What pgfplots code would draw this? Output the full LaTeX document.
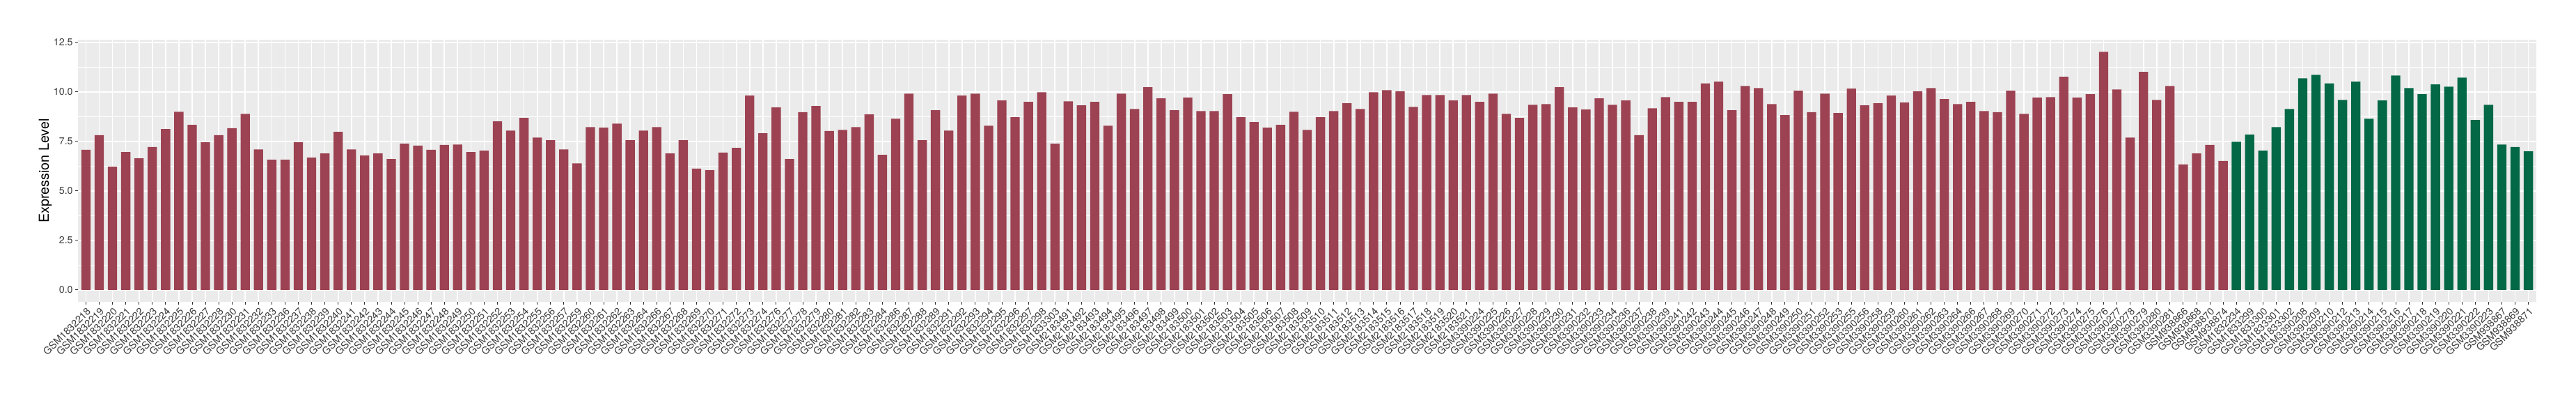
\documentclass[border=0pt]{standalone}
\usepackage{fontspec}
\setmainfont{TeX Gyre Heros}
\usepackage{pgfplots}
\usepackage{pgfplotstable}
\pgfplotsset{compat=1.18}

\definecolor{barred}{RGB}{156,66,82}
\definecolor{bargreen}{RGB}{3,104,70}
\definecolor{panelgrey}{RGB}{235,235,235}
\definecolor{grey20}{RGB}{51,51,51}
\definecolor{grey30}{RGB}{60,60,60}

% expression per sample; rows 0-161 first group, 162-184 second group
\pgfplotstableread{
x y name
0 7.07 GSM1832218
1 7.81 GSM1832219
2 6.22 GSM1832220
3 6.96 GSM1832221
4 6.64 GSM1832222
5 7.21 GSM1832223
6 8.12 GSM1832224
7 8.99 GSM1832225
8 8.33 GSM1832226
9 7.45 GSM1832227
10 7.81 GSM1832228
11 8.16 GSM1832230
12 8.89 GSM1832231
13 7.09 GSM1832232
14 6.57 GSM1832233
15 6.57 GSM1832236
16 7.45 GSM1832237
17 6.68 GSM1832238
18 6.89 GSM1832239
19 7.98 GSM1832240
20 7.09 GSM1832241
21 6.78 GSM1832242
22 6.89 GSM1832243
23 6.61 GSM1832244
24 7.38 GSM1832245
25 7.28 GSM1832246
26 7.07 GSM1832247
27 7.32 GSM1832248
28 7.34 GSM1832249
29 6.96 GSM1832250
30 7.03 GSM1832251
31 8.51 GSM1832252
32 8.04 GSM1832253
33 8.68 GSM1832254
34 7.69 GSM1832255
35 7.56 GSM1832256
36 7.09 GSM1832257
37 6.39 GSM1832259
38 8.22 GSM1832260
39 8.19 GSM1832261
40 8.39 GSM1832262
41 7.56 GSM1832263
42 8.04 GSM1832264
43 8.22 GSM1832266
44 6.89 GSM1832267
45 7.56 GSM1832268
46 6.12 GSM1832269
47 6.04 GSM1832270
48 6.93 GSM1832271
49 7.17 GSM1832272
50 9.81 GSM1832273
51 7.91 GSM1832274
52 9.21 GSM1832276
53 6.61 GSM1832277
54 8.97 GSM1832278
55 9.28 GSM1832279
56 8.02 GSM1832280
57 8.08 GSM1832281
58 8.22 GSM1832282
59 8.86 GSM1832283
60 6.82 GSM1832284
61 8.64 GSM1832286
62 9.91 GSM1832287
63 7.56 GSM1832288
64 9.07 GSM1832289
65 8.04 GSM1832291
66 9.81 GSM1832292
67 9.91 GSM1832293
68 8.29 GSM1832294
69 9.56 GSM1832295
70 8.72 GSM1832296
71 9.49 GSM1832297
72 9.98 GSM1832298
73 7.38 GSM1833303
74 9.52 GSM2183491
75 9.32 GSM2183492
76 9.49 GSM2183493
77 8.29 GSM2183494
78 9.91 GSM2183495
79 9.13 GSM2183496
80 10.23 GSM2183497
81 9.67 GSM2183498
82 9.07 GSM2183499
83 9.71 GSM2183500
84 9.03 GSM2183501
85 9.03 GSM2183502
86 9.88 GSM2183503
87 8.72 GSM2183504
88 8.47 GSM2183505
89 8.19 GSM2183506
90 8.33 GSM2183507
91 8.99 GSM2183508
92 8.08 GSM2183509
93 8.72 GSM2183510
94 9.03 GSM2183511
95 9.42 GSM2183512
96 9.13 GSM2183513
97 9.98 GSM2183514
98 10.08 GSM2183515
99 10.02 GSM2183516
100 9.24 GSM2183517
101 9.84 GSM2183518
102 9.84 GSM2183519
103 9.56 GSM2183520
104 9.84 GSM2183521
105 9.49 GSM3390224
106 9.91 GSM3390225
107 8.89 GSM3390226
108 8.68 GSM3390227
109 9.34 GSM3390228
110 9.38 GSM3390229
111 10.23 GSM3390230
112 9.21 GSM3390231
113 9.11 GSM3390232
114 9.67 GSM3390233
115 9.34 GSM3390234
116 9.56 GSM3390236
117 7.81 GSM3390237
118 9.17 GSM3390238
119 9.73 GSM3390239
120 9.49 GSM3390241
121 9.49 GSM3390242
122 10.43 GSM3390243
123 10.51 GSM3390244
124 9.07 GSM3390245
125 10.29 GSM3390246
126 10.19 GSM3390247
127 9.38 GSM3390248
128 8.82 GSM3390249
129 10.06 GSM3390250
130 8.97 GSM3390251
131 9.91 GSM3390252
132 8.93 GSM3390253
133 10.16 GSM3390255
134 9.32 GSM3390256
135 9.42 GSM3390258
136 9.81 GSM3390259
137 9.46 GSM3390260
138 10.02 GSM3390261
139 10.19 GSM3390262
140 9.63 GSM3390263
141 9.38 GSM3390264
142 9.49 GSM3390266
143 9.03 GSM3390267
144 8.97 GSM3390268
145 10.06 GSM3390269
146 8.89 GSM3390270
147 9.71 GSM3390271
148 9.73 GSM3390272
149 10.76 GSM3390273
150 9.71 GSM3390274
151 9.88 GSM3390275
152 12.02 GSM3390276
153 10.12 GSM3390277
154 7.69 GSM3390278
155 11.01 GSM3390279
156 9.59 GSM3390280
157 10.29 GSM3390281
158 6.33 GSM938866
159 6.89 GSM938868
160 7.32 GSM938870
161 6.51 GSM938874
162 7.48 GSM1832234
163 7.84 GSM1833299
164 7.03 GSM1833300
165 8.22 GSM1833301
166 9.13 GSM1833302
167 10.68 GSM3390208
168 10.86 GSM3390209
169 10.43 GSM3390210
170 9.59 GSM3390212
171 10.51 GSM3390213
172 8.64 GSM3390214
173 9.56 GSM3390215
174 10.82 GSM3390216
175 10.19 GSM3390217
176 9.88 GSM3390218
177 10.37 GSM3390219
178 10.26 GSM3390220
179 10.72 GSM3390221
180 8.58 GSM3390222
181 9.34 GSM3390223
182 7.34 GSM938867
183 7.21 GSM938869
184 6.99 GSM938871
}\exprtable

\begin{document}
\begin{tikzpicture}
\useasboundingbox (-56pt,-73.6pt) rectangle (1794pt,216.4pt);
\begin{axis}[
    at={(0pt,0pt)}, anchor=south west,
    scale only axis,
    width=1765.5pt, height=187.75pt,
    xmin=-0.6, xmax=184.6,
    ymin=-0.6, ymax=12.62,
    enlargelimits=false,
    ybar, bar width=0.7,
    axis background/.style={fill=panelgrey},
    axis line style={draw=none},
    xtick={0,...,184},
    xticklabels from table={\exprtable}{name},
    ytick={0,2.5,5,7.5,10,12.5},
    yticklabels={0.0,2.5,5.0,7.5,10.0,12.5},
    minor ytick={1.25,3.75,6.25,8.75,11.25},
    xmajorgrids, ymajorgrids, yminorgrids,
    major grid style={white, line width=0.85pt},
    minor grid style={white, line width=0.43pt},
    tick align=outside,
    xtick pos=left, ytick pos=left,
    major tick length=2pt, minor tick length=0pt,
    tick style={grey20, line width=0.43pt},
    xticklabel style={font=\fontsize{7.2}{8}\selectfont, text=grey30,
        rotate=45, anchor=north east, inner sep=1pt},
    yticklabel style={font=\fontsize{7.1}{8}\selectfont, text=grey30, inner sep=1.5pt},
    ylabel={Expression Level},
    every axis y label/.style={at={(axis description cs:0,0.5)}, xshift=-23.5pt,
        rotate=90, anchor=center, font=\fontsize{9.85}{11}\selectfont, text=black},
]
\addplot[fill=barred, draw=none, bar shift=0pt, restrict x to domain=0:161]
    table[x=x, y=y] {\exprtable};
\addplot[fill=bargreen, draw=none, bar shift=0pt, restrict x to domain=162:184]
    table[x=x, y=y] {\exprtable};
\end{axis}
\end{tikzpicture}
\end{document}
